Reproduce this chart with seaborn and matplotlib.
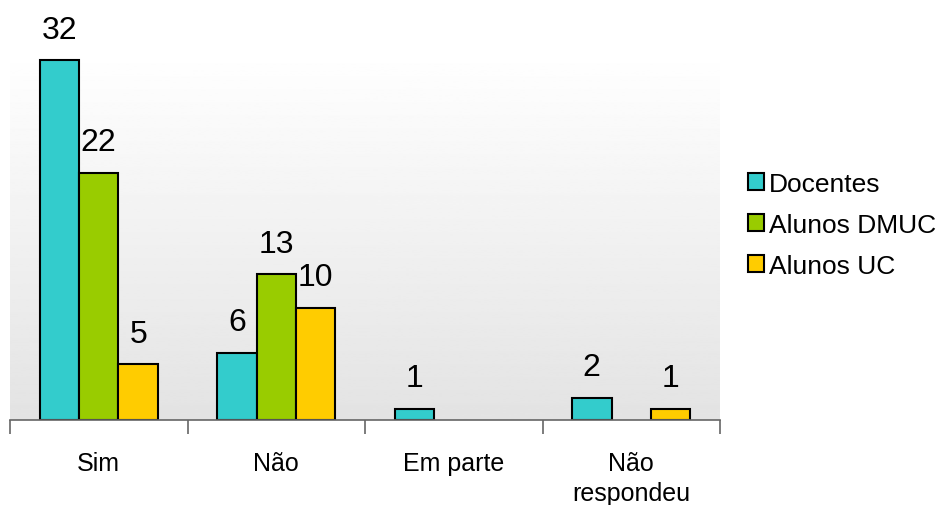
import numpy as np
import pandas as pd
import matplotlib
matplotlib.use("Agg")
import matplotlib.pyplot as plt
import seaborn as sns

categorias = ['Sim', 'Não', 'Em parte', 'Não\nrespondeu']
grupos = ['Docentes', 'Alunos DMUC', 'Alunos UC']
docentes = [32, 6, 1, 2]
alunos_dmuc = [22, 13, 0, 0]
alunos_uc = [5, 10, 0, 1]
cores = ['#33CCCC', '#99CC00', '#FFCC00']

df = pd.DataFrame({
    'categoria': categorias * 3,
    'grupo': [g for g in grupos for _ in categorias],
    'valor': docentes + alunos_dmuc + alunos_uc,
})

sns.set_style("white")
plt.rcParams['font.family'] = ['Liberation Sans', 'DejaVu Sans']
plt.rcParams['text.color'] = 'black'
plt.rcParams['xtick.color'] = 'black'

fig = plt.figure(figsize=(9.41, 5.06), dpi=100)
ax = fig.add_axes([10/941, (506-421)/506, 710/941, 371/506])

# fundo em gradiente (branco -> cinza claro)
grad = np.linspace(1.0, 0.89, 256).reshape(-1, 1)
ax.imshow(grad, extent=[0, 1, 0, 1], transform=ax.transAxes, cmap='gray',
          vmin=0, vmax=1, aspect='auto', zorder=0)

sns.barplot(data=df, x='categoria', y='valor', hue='grupo', order=categorias,
            hue_order=grupos, palette=cores, saturation=1, width=2/3,
            errorbar=None, edgecolor='black', linewidth=1.5, ax=ax, zorder=2,
            legend=False)

ax.set_xlim(-0.5, 3.5)
ax.set_ylim(0, 33)

for cont in ax.containers:
    labels = []
    for p in cont:
        h = p.get_height()
        if not h:
            p.set_visible(False)
            labels.append('')
        else:
            labels.append(f'{int(h)}')
    ax.bar_label(cont, labels=labels, padding=11, fontsize=23, clip_on=False)

ax.set_xlabel('')
ax.set_ylabel('')
ax.set_yticks([])
for s in ['top', 'left', 'right']:
    ax.spines[s].set_visible(False)
ax.spines['bottom'].set_color('#666666')
ax.spines['bottom'].set_linewidth(1.2)

ax.set_xticks(range(len(categorias)))
ax.set_xticklabels(categorias, fontsize=18, linespacing=1.35)
ax.tick_params(axis='x', which='major', length=0, pad=22, labelcolor='black')
ax.set_xticks([-0.5, 0.5, 1.5, 2.5, 3.5], minor=True)
ax.tick_params(axis='x', which='minor', length=10, width=1.2, color='#666666',
               direction='out', bottom=True)

handles = [plt.Rectangle((0, 0), 1, 1, facecolor=c, edgecolor='black', linewidth=1.5)
           for c in cores]
fig.legend(handles, grupos, loc='center left', bbox_to_anchor=(748/941, 1 - 226/506),
           frameon=False, fontsize=19, handlelength=0.6, handleheight=0.6,
           handletextpad=0.2, labelspacing=0.65, borderaxespad=0, borderpad=0)

fig.savefig('out.png', dpi=100)
